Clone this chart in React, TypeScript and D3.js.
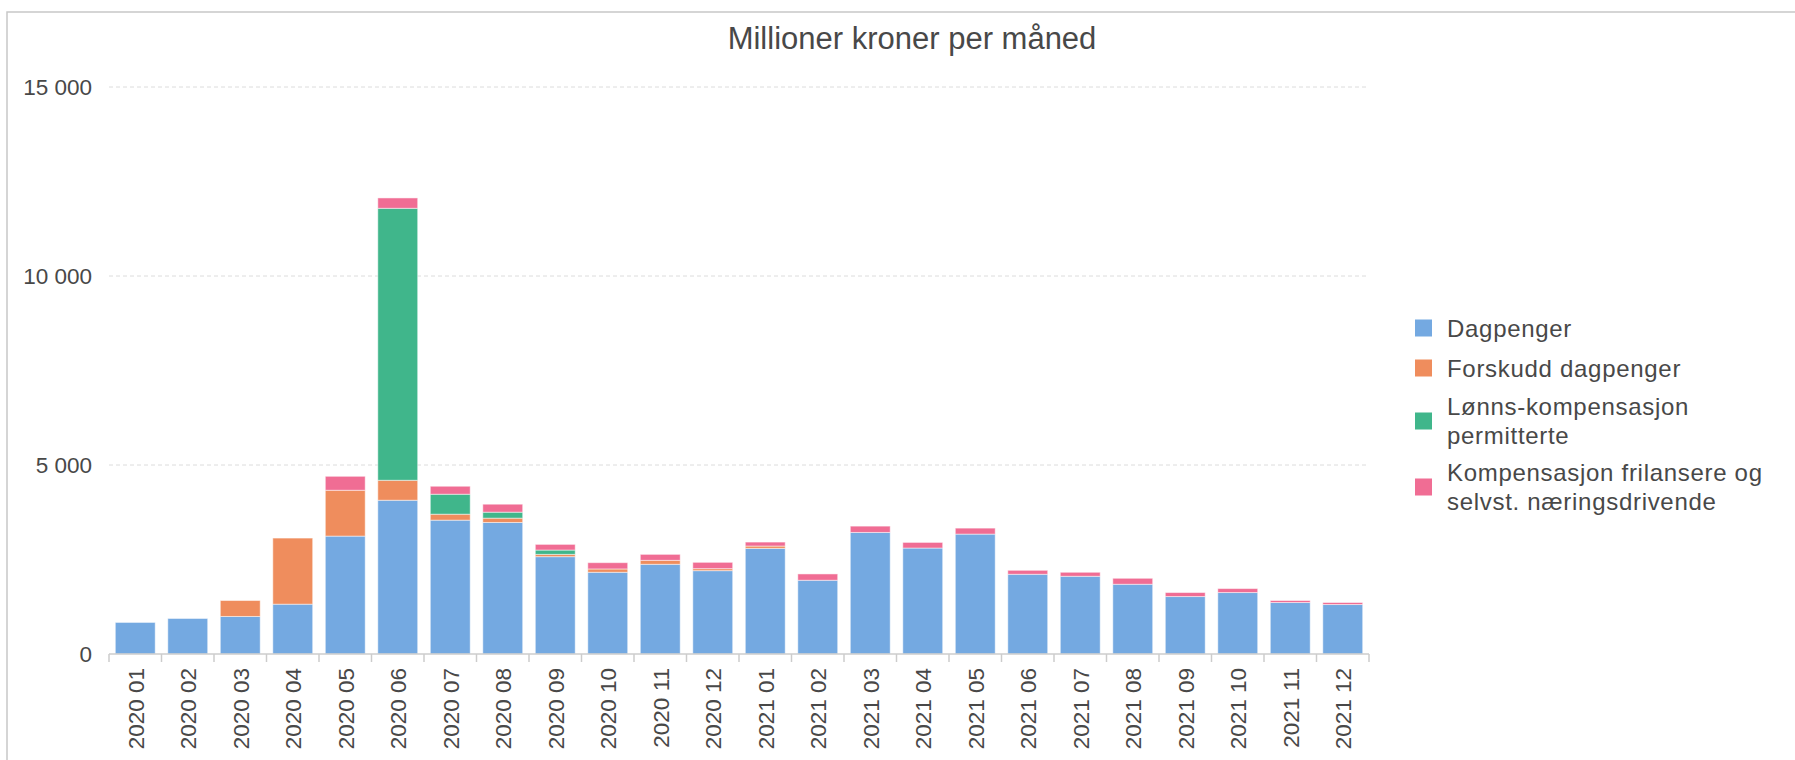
import React from "react";
import * as d3 from "d3";

const width = 1795;
const height = 760;
const margin = { top: 87, bottom: 654, left: 109, right: 1369 };

const months = [
  "2020 01", "2020 02", "2020 03", "2020 04", "2020 05", "2020 06",
  "2020 07", "2020 08", "2020 09", "2020 10", "2020 11", "2020 12",
  "2021 01", "2021 02", "2021 03", "2021 04", "2021 05", "2021 06",
  "2021 07", "2021 08", "2021 09", "2021 10", "2021 11", "2021 12",
];

const dagpenger = [835, 940, 993, 1318, 3119, 4068, 3541, 3480, 2575, 2162, 2373, 2205, 2794, 1951, 3216, 2803, 3172, 2109, 2056, 1845, 1520, 1626, 1362, 1309];
const forskudd = [0, 0, 422, 1749, 1213, 528, 158, 114, 61, 88, 105, 53, 62, 0, 0, 0, 0, 0, 0, 0, 0, 0, 0, 0];
const lonnskomp = [0, 0, 0, 0, 0, 7195, 528, 158, 114, 0, 0, 0, 0, 0, 0, 0, 0, 0, 0, 0, 0, 0, 0, 0];
const frilans = [0, 0, 0, 0, 369, 274, 211, 211, 150, 166, 158, 167, 105, 167, 167, 149, 158, 105, 106, 158, 106, 105, 53, 53];

const yTicks = [0, 5000, 10000, 15000];
const seriesKeys = ["dagpenger", "forskudd", "lonnskomp", "frilans"];
const colors = ["#74a9e1", "#ef8d5d", "#40b68b", "#f06d94"];
const legendLabels = [
  ["Dagpenger"],
  ["Forskudd dagpenger"],
  ["Lønns-kompensasjon", "permitterte"],
  ["Kompensasjon frilansere og", "selvst. næringsdrivende"],
];

const font = "'Liberation Sans', Arial, sans-serif";
const textColor = "#484848";

export default function App() {
  const rows = months.map((m, i) => ({
    month: m,
    dagpenger: dagpenger[i],
    forskudd: forskudd[i],
    lonnskomp: lonnskomp[i],
    frilans: frilans[i],
  }));

  const stacked = d3.stack<any>().keys(seriesKeys)(rows);

  const xScale = d3
    .scaleBand()
    .domain(months)
    .range([margin.left, margin.right])
    .paddingInner(0.24)
    .paddingOuter(0.12);

  const yScale = d3
    .scaleLinear()
    .domain([0, 15000])
    .range([margin.bottom, margin.top]);

  const fmt = (v: number) => d3.format(",")(v).replace(",", " ");
  const step = xScale.step();
  const tickXs = d3.range(months.length + 1).map((i) => margin.left + i * step);

  const legendY = [328, 368, 421, 487];

  return (
    <svg
      width={width}
      height={height}
      style={{ position: "absolute", left: 0, top: 0, background: "#fff" }}
      fontFamily={font}
    >
      <rect x={7} y={12} width={2000} height={2000} fill="none" stroke="#c8c8c8" strokeWidth={1.5} />
      <text x={912} y={38} textAnchor="middle" dominantBaseline="central" fontSize={31} fill={textColor}>
        Millioner kroner per måned
      </text>

      {yTicks.map((t) => (
        <g key={t}>
          {t > 0 && (
            <line
              x1={margin.left}
              x2={margin.right}
              y1={yScale(t)}
              y2={yScale(t)}
              stroke="#dcdcdc"
              strokeDasharray="4 3"
            />
          )}
          <text x={92} y={yScale(t)} textAnchor="end" dominantBaseline="central" fontSize={22.5} fill={textColor}>
            {fmt(t)}
          </text>
        </g>
      ))}

      {stacked.map((s, si) => (
        <g key={s.key} fill={colors[si]}>
          {s.map((d, i) =>
            d[1] - d[0] > 0 ? (
              <rect
                key={i}
                x={xScale(months[i])}
                y={yScale(d[1])}
                width={xScale.bandwidth()}
                height={yScale(d[0]) - yScale(d[1])}
                stroke="#fff"
                strokeOpacity={0.5}
                strokeWidth={1}
              />
            ) : null
          )}
        </g>
      ))}

      <line x1={margin.left} x2={margin.right} y1={margin.bottom} y2={margin.bottom} stroke="#ccc" strokeWidth={1.5} />
      {tickXs.map((x, i) => (
        <line key={i} x1={x} x2={x} y1={margin.bottom} y2={margin.bottom + 8} stroke="#ccc" strokeWidth={1.5} />
      ))}
      {months.map((m) => {
        const cx = (xScale(m) as number) + xScale.bandwidth() / 2;
        return (
          <text
            key={m}
            transform={`translate(${cx + 1},668) rotate(-90)`}
            textAnchor="end"
            dominantBaseline="central"
            fontSize={22.5}
            fill={textColor}
          >
            {m}
          </text>
        );
      })}

      {legendLabels.map((lines, i) => (
        <g key={i}>
          <rect x={1415} y={legendY[i] - 8.5} width={17} height={17} fill={colors[i]} />
          {lines.map((ln, j) => (
            <text
              key={j}
              x={1447}
              y={legendY[i] + (j - (lines.length - 1) / 2) * 29}
              dominantBaseline="central"
              fontSize={24}
              letterSpacing={0.7}
              fill={textColor}
            >
              {ln}
            </text>
          ))}
        </g>
      ))}
    </svg>
  );
}
